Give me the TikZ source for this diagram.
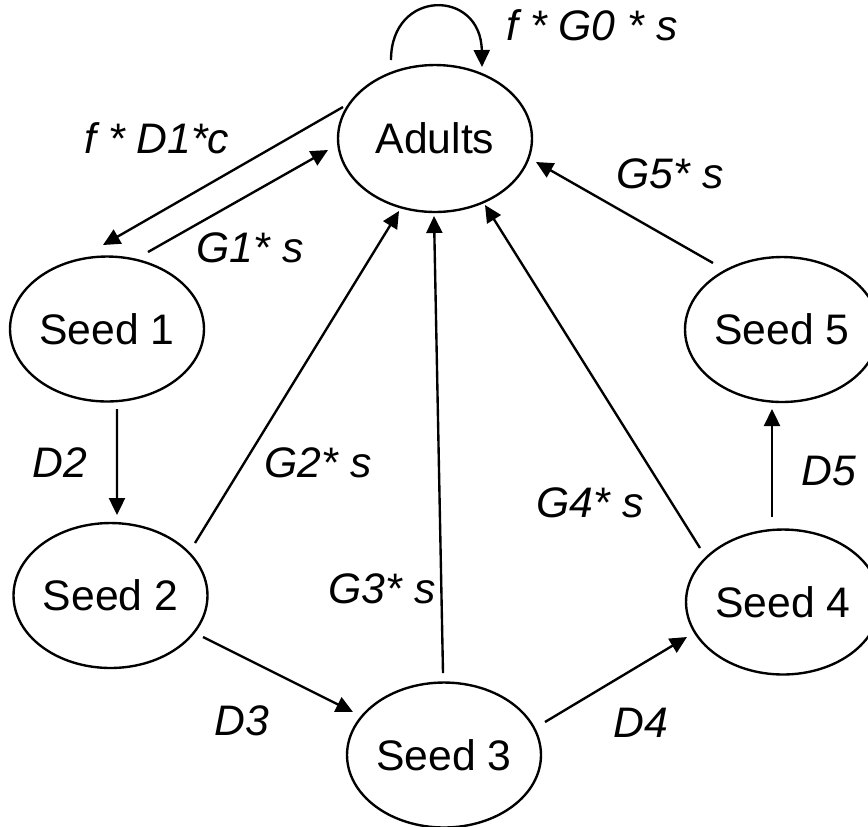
\documentclass[tikz,border=0pt]{standalone}
\usepackage{fontspec}
\setmainfont{Liberation Sans}
\usetikzlibrary{arrows.meta,shapes.geometric}
\begin{document}
\begin{tikzpicture}[x=0.02cm,y=-0.02cm,
  every node/.style={font=\fontsize{24.3pt}{29pt}\selectfont},
  stage/.style={ellipse,draw,line width=1.35pt,minimum width=3.88cm,minimum height=2.9cm,inner sep=0pt,outer sep=0pt},
  rate/.style={anchor=base,inner sep=0pt,font=\fontsize{24.3pt}{29pt}\selectfont\itshape},
  flow/.style={line width=1.35pt,-{Triangle[length=0.34cm,width=0.32cm]}}]
\useasboundingbox (0,0) rectangle (868,826);
\clip (0,0) rectangle (868,826);

% life stages
\node[stage,minimum height=2.94cm] (a) at (435,138.5) {Adults};
\node[stage] (s1) at (107,329) {Seed 1};
\node[stage] (s2) at (110.5,595.5) {Seed 2};
\node[stage] (s3) at (444,755) {Seed 3};
\node[stage] (s4) at (783,602) {Seed 4};
\node[stage] (s5) at (782,329.5) {Seed 5};

% transition labels
\node[rate] (l0) at (592,40) {f * G0 * s};
\node[rate] (l1) at (157,153) {f * D1*c};
\node[rate] (g1) at (250,262) {G1* s};
\node[rate] (d2) at (60,477) {D2};
\node[rate] (g2) at (318,477) {G2* s};
\node[rate] (g3) at (382,603) {G3* s};
\node[rate] (d3) at (242,735) {D3};
\node[rate] (d4) at (641,737) {D4};
\node[rate] (g4) at (590,517) {G4* s};
\node[rate] (d5) at (829,485) {D5};
\node[rate] (g5) at (670,188) {G5* s};

% adults persisting
\draw[flow] ([shift={(-44,-78.5)}]a.center)
  .. controls ([shift={(-44,-150)}]a.center) and ([shift={(46,-150)}]a.center)
  .. ([shift={(47,-71.5)}]a.center);

% seed production and germination
\draw[flow] ([shift={(-92,-31.5)}]a.center) -- ([shift={(-4,-84)}]s1.center);
\draw[flow] ([shift={(41,-77)}]s1.center) -- ([shift={(-107,11.5)}]a.center);
\draw[flow] ([shift={(84.5,-52.5)}]s2.center) -- ([shift={(-36,72.5)}]a.center);
\draw[flow] ([shift={(-1,-82)}]s3.center) -- ([shift={(-1,77.5)}]a.center);
\draw[flow] ([shift={(-83,-54)}]s4.center) -- ([shift={(50,66.5)}]a.center);
\draw[flow] ([shift={(-69,-66.5)}]s5.center) -- ([shift={(101,23.5)}]a.center);

% seed bank ageing
\draw[flow] ([shift={(10,80)}]s1.center) -- ([shift={(6.5,-80.5)}]s2.center);
\draw[flow] ([shift={(92.5,41.5)}]s2.center) -- ([shift={(-91,-43)}]s3.center);
\draw[flow] ([shift={(101,-33)}]s3.center) -- ([shift={(-96,35)}]s4.center);
\draw[flow] ([shift={(-11,-85)}]s4.center) -- ([shift={(-10,79.5)}]s5.center);
\end{tikzpicture}
\end{document}
